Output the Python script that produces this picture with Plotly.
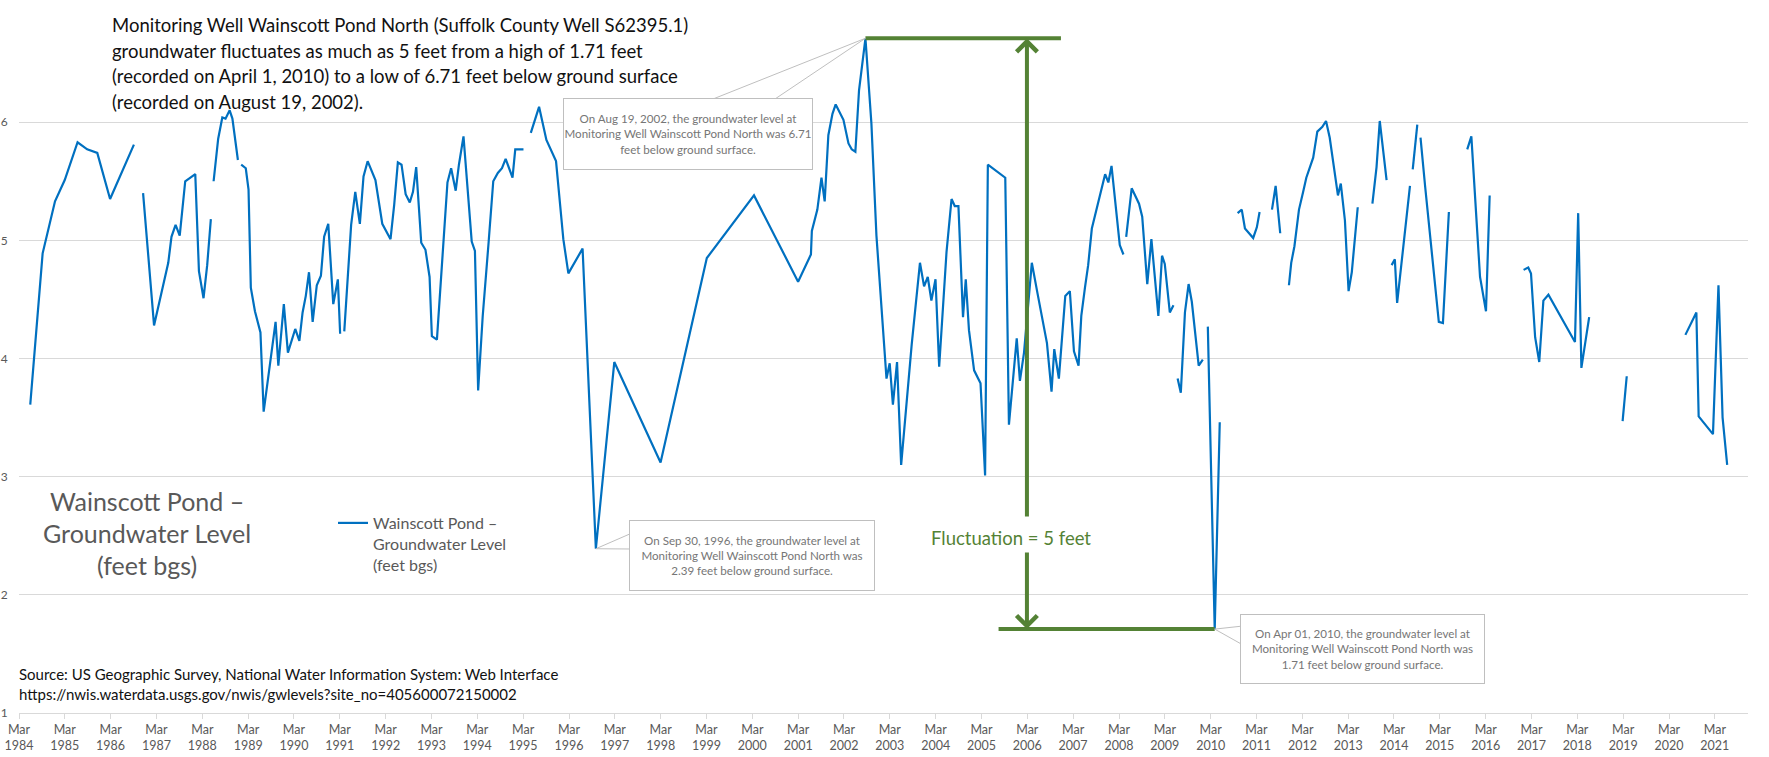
import pandas as pd
import plotly.graph_objects as go

# ---------------- data (decimal year, feet bgs); None = gap in record ----------------
obs_year = [
    1984.41, 1984.68, 1984.95, 1985.16, 1985.44, 1985.65, 1985.87, 1986.15, 1986.67, None,
    1986.87, 1987.11, 1987.42, 1987.49, 1987.58, 1987.67, 1987.79, 1988.01, 1988.09, 1988.19,
    1988.27, 1988.35, None,
    1988.41, 1988.51, 1988.60, 1988.67, 1988.76, 1988.82, 1988.94, None,
    1989.01, 1989.11, 1989.17, 1989.22, 1989.31, 1989.43, 1989.50, 1989.65, 1989.76, 1989.82,
    1989.94, 1990.03, 1990.19, 1990.28, 1990.35, 1990.42, 1990.49, 1990.57, 1990.66, 1990.75,
    1990.82, 1990.91, 1991.02, 1991.12, 1991.17, None,
    1991.26, 1991.41, 1991.50, 1991.60, 1991.68, 1991.77, 1991.94, 1992.09, 1992.27, 1992.35,
    1992.43, 1992.51, 1992.60, 1992.69, 1992.76, 1992.83, 1992.94, 1993.03, 1993.12, 1993.17,
    1993.28, 1993.43, 1993.51, 1993.59, 1993.69, 1993.76, 1993.86, 1994.04, 1994.11, 1994.18,
    1994.28, 1994.41, 1994.51, 1994.61, 1994.70, 1994.78, 1994.93, 1994.99, 1995.17, None,
    1995.33, 1995.51, 1995.67, 1995.88, 1996.04, 1996.15, 1996.46, 1996.75, 1997.15, 1998.16,
    1999.17, 2000.20, 2001.16, 2001.44, 2001.46, 2001.58, 2001.67, 2001.74, 2001.82, 2001.91,
    2001.98, 2002.15, 2002.26, 2002.33, 2002.41, 2002.49, 2002.63, 2002.70, 2002.76, 2002.87,
    2003.00, 2003.09, 2003.16, 2003.23, 2003.32, 2003.41, 2003.64, 2003.82, 2003.91, 2003.99,
    2004.07, 2004.16, 2004.24, 2004.40, 2004.51, 2004.58, 2004.66, 2004.76, 2004.82, 2004.89,
    2005.00, 2005.14, 2005.24, 2005.30, 2005.68, 2005.76, 2005.93, 2006.00, 2006.09, 2006.26,
    2006.38, 2006.59, 2006.69, 2006.75, 2006.85, 2006.99, 2007.09, 2007.18, 2007.28, 2007.34,
    2007.42, 2007.49, 2007.57, 2007.86, 2007.93, 2008.00, 2008.18, 2008.26, None,
    2008.32, 2008.44, 2008.60, 2008.67, 2008.78, 2008.87, 2009.02, 2009.10, 2009.16, 2009.27,
    2009.35, None,
    2009.44, 2009.51, 2009.60, 2009.68, 2009.75, 2009.90, 2009.99, None,
    2010.10, 2010.25, 2010.36, None,
    2010.75, 2010.84, 2010.91, 2011.09, 2011.17, 2011.23, None,
    2011.50, 2011.58, 2011.68, None,
    2011.87, 2011.92, 2011.99, 2012.09, 2012.18, 2012.25, 2012.40, 2012.49, 2012.60, 2012.68,
    2012.76, 2012.94, 2013.00, 2013.09, 2013.17, 2013.24, 2013.37, None,
    2013.69, 2013.78, 2013.85, 2014.00, None,
    2014.11, 2014.18, 2014.23, 2014.51, None,
    2014.57, 2014.67, None,
    2014.74, 2014.84, 2015.14, 2015.23, 2015.36, None,
    2015.76, 2015.85, 2016.04, 2016.17, 2016.25, None,
    2016.99, 2017.09, 2017.15, 2017.24, 2017.33, 2017.42, 2017.53, 2018.11, 2018.18, 2018.25,
    2018.42, None,
    2019.15, 2019.24, None,
    2020.52, 2020.76, 2020.81, 2021.12, 2021.24, 2021.33, 2021.43,
]

level_ft = [
    3.61, 4.89, 5.33, 5.51, 5.83, 5.77, 5.74, 5.35, 5.81, None,
    5.40, 4.28, 4.81, 5.03, 5.13, 5.04, 5.50, 5.56, 4.74, 4.51,
    4.79, 5.18, None,
    5.50, 5.86, 6.04, 6.03, 6.10, 6.03, 5.68, None,
    5.64, 5.61, 5.43, 4.60, 4.40, 4.22, 3.55, 3.97, 4.31, 3.94,
    4.46, 4.05, 4.25, 4.15, 4.39, 4.53, 4.73, 4.31, 4.62, 4.70,
    5.03, 5.14, 4.46, 4.67, 4.21, None,
    4.23, 5.13, 5.41, 5.14, 5.54, 5.67, 5.51, 5.14, 5.01, 5.30,
    5.66, 5.64, 5.39, 5.32, 5.41, 5.62, 4.98, 4.92, 4.69, 4.19,
    4.16, 5.03, 5.49, 5.61, 5.42, 5.64, 5.88, 4.99, 4.91, 3.73,
    4.36, 4.99, 5.50, 5.57, 5.61, 5.69, 5.53, 5.77, 5.77, None,
    5.91, 6.13, 5.85, 5.67, 5.01, 4.72, 4.93, 2.39, 3.97, 3.12,
    4.85, 5.38, 4.65, 4.88, 5.08, 5.26, 5.53, 5.33, 5.89, 6.07,
    6.15, 6.02, 5.82, 5.77, 5.75, 6.27, 6.71, 6.33, 5.99, 5.04,
    4.32, 3.83, 3.96, 3.61, 3.97, 3.10, 4.12, 4.81, 4.61, 4.69,
    4.49, 4.67, 3.93, 4.90, 5.35, 5.29, 5.29, 4.35, 4.67, 4.24,
    3.90, 3.79, 3.01, 5.64, 5.53, 3.44, 4.17, 3.81, 4.05, 4.81,
    4.56, 4.13, 3.72, 4.08, 3.83, 4.53, 4.57, 4.06, 3.94, 4.36,
    4.60, 4.79, 5.10, 5.56, 5.49, 5.63, 4.96, 4.88, None,
    5.03, 5.44, 5.31, 5.20, 4.63, 5.01, 4.36, 4.87, 4.80, 4.39,
    4.45, None,
    3.83, 3.71, 4.39, 4.63, 4.48, 3.94, 3.99, None,
    4.27, 1.71, 3.46, None,
    5.23, 5.26, 5.10, 5.02, 5.11, 5.24, None,
    5.26, 5.46, 5.06, None,
    4.62, 4.81, 4.95, 5.26, 5.41, 5.53, 5.70, 5.92, 5.96, 6.01,
    5.87, 5.38, 5.48, 5.17, 4.57, 4.73, 5.28, None,
    5.31, 5.62, 6.01, 5.51, None,
    4.79, 4.84, 4.47, 5.46, None,
    5.60, 5.98, None,
    5.87, 5.46, 4.31, 4.30, 5.24, None,
    5.77, 5.88, 4.69, 4.40, 5.38, None,
    4.75, 4.77, 4.72, 4.18, 3.97, 4.49, 4.54, 4.14, 5.23, 3.92,
    4.35, None,
    3.47, 3.85, None,
    4.20, 4.39, 3.51, 3.36, 4.62, 3.50, 3.10,
]

tick_years = list(range(1984, 2022))
tick_labels = [f"Mar<br>{y}" for y in tick_years]
y_ticks = [1, 2, 3, 4, 5, 6, 7]

series_name = "Wainscott Pond –<br>Groundwater Level<br>(feet bgs)"
axis_title_lines = ["Wainscott Pond –", "Groundwater Level", "(feet bgs)"]
headline_lines = [
    "Monitoring Well Wainscott Pond North (Suffolk County Well S62395.1)",
    "groundwater fluctuates as much as 5 feet from a high of 1.71 feet",
    "(recorded on April 1, 2010) to a low of 6.71 feet below ground surface",
    "(recorded on August 19, 2002).",
]
source_lines = [
    "Source: US Geographic Survey, National Water Information System: Web Interface",
    "https://nwis.waterdata.usgs.gov/nwis/gwlevels?site_no=405600072150002",
]
callout_years = [2002.63, 1996.75, 2010.25]
callout_texts = [
    "On Aug 19, 2002, the groundwater level at<br>Monitoring Well Wainscott Pond North was 6.71<br>feet below ground surface.",
    "On Sep 30, 1996, the groundwater level at<br>Monitoring Well Wainscott Pond North was<br>2.39 feet below ground surface.",
    "On Apr 01, 2010, the groundwater level at<br>Monitoring Well Wainscott Pond North was<br>1.71 feet below ground surface.",
]
fluct_label = "Fluctuation = 5 feet"


def to_date(y):
    if y is None:
        return None
    yr = int(y)
    return pd.Timestamp(yr, 1, 1) + pd.Timedelta(days=(y - yr) * 365.25)


dates = [to_date(y) for y in obs_year]

# ---------------- geometry ----------------
W, H = 1769, 757
PL, PR, PT, PB = 19, 1748, 4, 713
X_START = pd.Timestamp("1984-03-01")
X_END = pd.Timestamp("2021-11-20")
Y_MIN, Y_MAX = 1, 7


def px_x(p):
    return (p - PL) / (PR - PL)


def px_y(p):
    return (PB - p) / (PB - PT)


def dx(d):
    return (d - X_START) / (X_END - X_START)


def dy(v):
    return (v - Y_MIN) / (Y_MAX - Y_MIN)


FONT = "Lato, Carlito, Calibri, sans-serif"
GRAY = "#595959"
GREEN = "#548235"
BLUE = "#0070C0"

fig = go.Figure()
fig.add_trace(go.Scatter(
    x=dates, y=level_ft, mode="lines", name=series_name,
    line=dict(color=BLUE, width=2.2), connectgaps=False, showlegend=True,
))

# key points
valid = [(d, v) for d, v in zip(dates, level_ft) if v is not None]
d_max, v_max = max(valid, key=lambda t: t[1])
d_min, v_min = min(valid, key=lambda t: t[1])


def nearest(year):
    target = to_date(year)
    return min(valid, key=lambda t: abs((t[0] - target).days))


shapes = []
annotations = []

# green fluctuation lines
shapes.append(dict(type="line", xref="x", yref="y", x0=d_max, x1=pd.Timestamp("2006-11-24"),
                    y0=v_max, y1=v_max, line=dict(color=GREEN, width=4), layer="above"))
shapes.append(dict(type="line", xref="x", yref="y", x0=pd.Timestamp("2005-07-15"), x1=d_min,
                    y0=v_min, y1=v_min, line=dict(color=GREEN, width=4), layer="above"))
arrow_x = pd.Timestamp("2006-02-26")
annotations.append(dict(xref="x", yref="y", axref="x", ayref="y", x=arrow_x, y=v_max,
                        ax=arrow_x, ay=2.65, text="", showarrow=True, arrowhead=4,
                        arrowsize=1, arrowwidth=4, arrowcolor=GREEN))
annotations.append(dict(xref="x", yref="y", axref="x", ayref="y", x=arrow_x, y=v_min,
                        ax=arrow_x, ay=2.37, text="", showarrow=True, arrowhead=4,
                        arrowsize=1, arrowwidth=4, arrowcolor=GREEN))
annotations.append(dict(xref="paper", yref="paper", x=px_x(1011), y=px_y(538), text=fluct_label,
                        showarrow=False, font=dict(family=FONT, size=18.5, color=GREEN),
                        xanchor="center", yanchor="middle"))

# callouts: (box centre px, box w,h, wedge base points px)
callout_geom = [
    ((688, 134), (250, 72), [(708, 101), (772, 101)]),
    ((752, 555.5), (246, 71), [(632, 533), (632, 549)]),
    ((1362.5, 649), (245, 70), [(1243, 626), (1243, 645)]),
]
for yr, txt, (c, wh, base) in zip(callout_years, callout_texts, callout_geom):
    d, v = nearest(yr)
    axp, ayp = dx(d), dy(v)
    path = f"M {axp},{ayp} L {px_x(base[0][0])},{px_y(base[0][1])} L {px_x(base[1][0])},{px_y(base[1][1])} Z"
    shapes.append(dict(type="path", xref="paper", yref="paper", path=path,
                       fillcolor="white", line=dict(color="#bfbfbf", width=1), layer="above"))
    annotations.append(dict(xref="paper", yref="paper", x=px_x(c[0]), y=px_y(c[1]), text=txt,
                            showarrow=False, font=dict(family=FONT, size=11.6, color="#767676"),
                            bgcolor="white", bordercolor="#bfbfbf", borderwidth=1, borderpad=0,
                            width=wh[0] - 2, height=wh[1] - 2, align="center",
                            xanchor="center", yanchor="middle"))

# headline
for i, line in enumerate(headline_lines):
    annotations.append(dict(xref="paper", yref="paper", x=px_x(110), y=px_y(25 + i * 25.5), text=line,
                            showarrow=False, font=dict(family=FONT, size=18.5, color="#111111"),
                            xanchor="left", yanchor="middle"))
# axis title text block
for i, line in enumerate(axis_title_lines):
    annotations.append(dict(xref="paper", yref="paper", x=px_x(146.5), y=px_y(501 + i * 32), text=line,
                            showarrow=False, font=dict(family=FONT, size=25, color=GRAY),
                            xanchor="center", yanchor="middle"))
# source
for i, line in enumerate(source_lines):
    annotations.append(dict(xref="paper", yref="paper", x=px_x(17), y=px_y(674 + i * 20), text=line,
                            showarrow=False, font=dict(family=FONT, size=15, color="#111111"),
                            xanchor="left", yanchor="middle"))

fig.update_layout(
    width=W, height=H, autosize=False,
    margin=dict(l=PL, r=W - PR, t=PT, b=H - PB, pad=0),
    paper_bgcolor="white", plot_bgcolor="white",
    font=dict(family=FONT, color=GRAY),
    showlegend=True,
    legend=dict(x=px_x(333), y=px_y(506), xanchor="left", yanchor="top", valign="top",
                font=dict(family=FONT, size=16, color=GRAY), bgcolor="rgba(0,0,0,0)",
                borderwidth=0, tracegroupgap=0),
    shapes=shapes, annotations=annotations,
    hovermode=False,
)
fig.update_xaxes(
    type="date", range=[X_START, X_END],
    tickvals=[pd.Timestamp(y, 3, 1) for y in tick_years], ticktext=tick_labels,
    tickfont=dict(family=FONT, size=12.5, color=GRAY),
    showgrid=False, showline=True, linecolor="#d9d9d9", linewidth=1,
    ticks="outside", ticklen=5, tickcolor="#d9d9d9", zeroline=False, automargin=False,
)
fig.update_yaxes(
    range=[Y_MIN, Y_MAX], tickvals=y_ticks,
    tickfont=dict(family=FONT, size=12, color=GRAY),
    showgrid=True, gridcolor="#d9d9d9", gridwidth=1, zeroline=False, showline=False,
    ticks="outside", ticklen=8, tickcolor="rgba(0,0,0,0)", automargin=False,
)

fig.write_html("out.html", config={"displayModeBar": False},
               post_script="document.body.style.margin='0';")
